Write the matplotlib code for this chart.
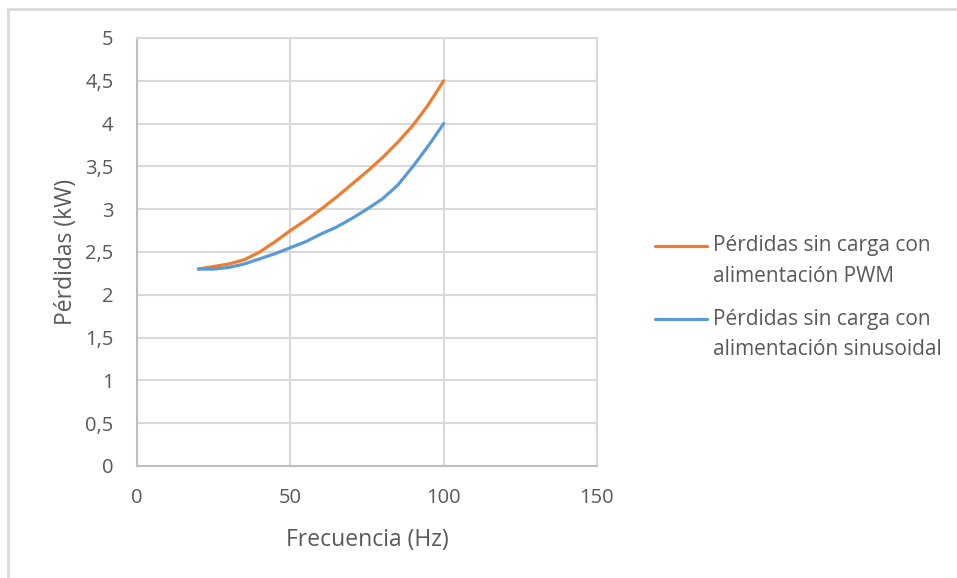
import numpy as np
import matplotlib.pyplot as plt
from matplotlib.lines import Line2D
from matplotlib.legend_handler import HandlerLine2D

plt.rcParams['font.family'] = ['Open Sans', 'DejaVu Sans']

# data (5 Hz steps)
freq = [20, 25, 30, 35, 40, 45, 50, 55, 60, 65, 70, 75, 80, 85, 90, 95, 100]
loss_pwm = [2.30, 2.33, 2.36, 2.41, 2.50, 2.62, 2.75, 2.87, 3.00, 3.14, 3.29,
            3.44, 3.60, 3.78, 3.98, 4.22, 4.50]
loss_sin = [2.30, 2.30, 2.32, 2.36, 2.42, 2.48, 2.55, 2.62, 2.71, 2.79, 2.89,
            3.00, 3.12, 3.28, 3.50, 3.74, 4.00]

label_pwm = 'Pérdidas sin carga con\nalimentación PWM'
label_sin = 'Pérdidas sin carga con\nalimentación sinusoidal'

xticks = [0, 50, 100, 150]
yticks = np.arange(0, 5.01, 0.5)
ytick_labels = [('%g' % v).replace('.', ',') for v in yticks]

text_col = '#595959'
grid_col = '#d9d9d9'


class TopLineHandler(HandlerLine2D):
    # put the legend line level with the first text line, as Excel does
    def create_artists(self, legend, orig_handle, xdescent, ydescent,
                       width, height, fontsize, trans):
        artists = super().create_artists(legend, orig_handle, xdescent, ydescent,
                                         width, height, fontsize, trans)
        for a in artists:
            a.set_ydata(np.asarray(a.get_ydata()) + 11.5)
        return artists


fig = plt.figure(figsize=(9.57, 5.78), dpi=100)
ax = fig.add_axes([0.1432, 0.1938, 0.4806, 0.7405])

ax.plot(freq, loss_pwm, color='#ed7d31', lw=2.3, label=label_pwm, solid_capstyle='round')
ax.plot(freq, loss_sin, color='#5b9bd5', lw=2.3, label=label_sin, solid_capstyle='round')

ax.set_xlim(0, 150)
ax.set_ylim(0, 5)
ax.set_xticks(xticks)
ax.set_yticks(yticks)
ax.set_yticklabels(ytick_labels)
ax.grid(True, color=grid_col, lw=1.5)
ax.set_axisbelow(True)
for s in ax.spines.values():
    s.set_color(grid_col)
    s.set_linewidth(1.5)
ax.spines['left'].set_color('#bfbfbf')
ax.spines['bottom'].set_color('#bfbfbf')
ax.tick_params(length=0, labelsize=14.5, colors=text_col)
ax.tick_params(axis='x', pad=16)
ax.tick_params(axis='y', pad=17)

ax.set_xlabel('Frecuencia (Hz)', fontsize=16.5, color=text_col, labelpad=14)
ax.set_ylabel('Pérdidas (kW)', fontsize=16.5, color=text_col, labelpad=5)

leg = ax.legend(loc='center left', bbox_to_anchor=(1.085, 0.393), frameon=False,
                fontsize=15, handlelength=2.5, labelspacing=1.05, handletextpad=0.3,
                handler_map={Line2D: TopLineHandler()})
for t in leg.get_texts():
    t.set_color(text_col)
    t.set_linespacing(1.6)

# outer frame (only top and left visible)
fig.add_artist(Line2D([0.0088, 1.0], [0.985, 0.985], color=grid_col, lw=2, transform=fig.transFigure))
fig.add_artist(Line2D([0.0088, 0.0088], [0.0, 0.985], color=grid_col, lw=2, transform=fig.transFigure))

fig.savefig('out.png', dpi=100, facecolor='white')
